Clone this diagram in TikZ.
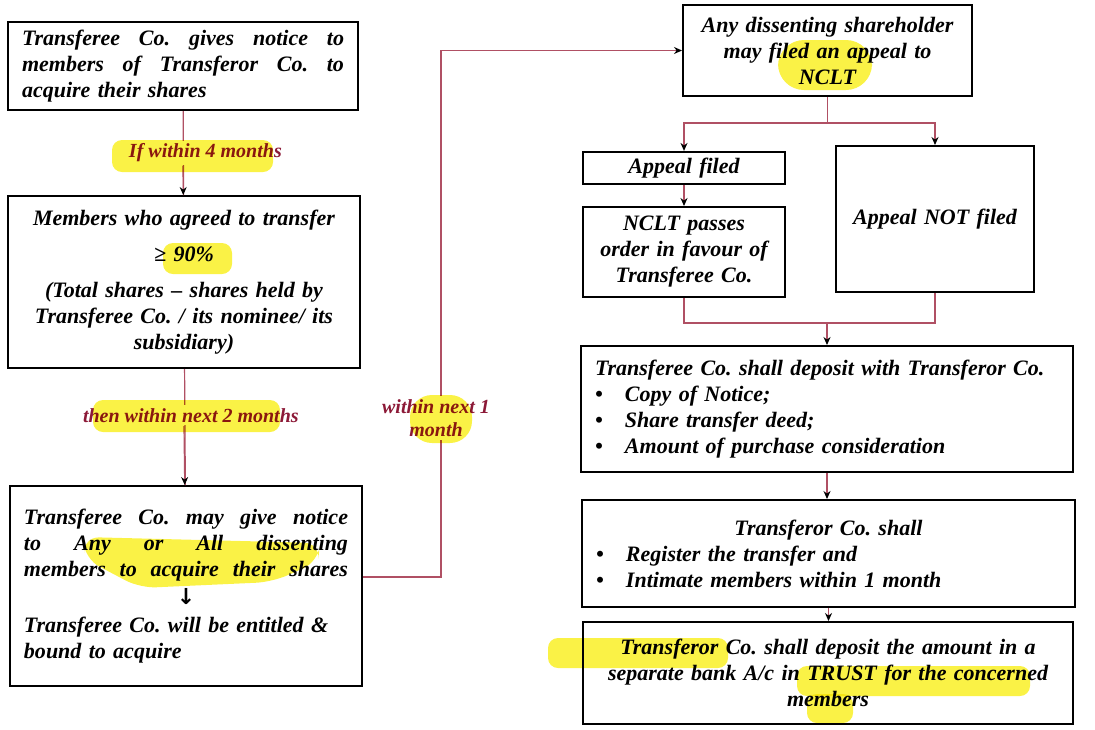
\documentclass[tikz,border=0pt]{standalone}
\usepackage{fontspec}
\setmainfont{Liberation Serif}
\newfontfamily\symfont{DejaVu Sans}
\usetikzlibrary{arrows.meta,positioning,calc,backgrounds}
\frenchspacing
\newcommand{\jline}[1]{\makebox[\linewidth][s]{\spaceskip=.3em plus 10em\relax #1}}
\newcommand{\bitem}[1]{\makebox[15pt][l]{\textbullet}#1}
\definecolor{linkred}{RGB}{176,80,100}
\definecolor{lblred}{RGB}{140,25,55}
\definecolor{marker}{RGB}{250,242,70}

\begin{document}
\begin{tikzpicture}[
    x=0.5pt, y=-0.5pt,
    box/.style={draw, line width=1pt, inner xsep=7pt, inner ysep=3pt,
                font=\bfseries\itshape\fontsize{11}{13}\selectfont},
    conn/.style={linkred, line width=0.6pt,
                 arrows={-Stealth[color=black, length=4pt, width=3.5pt]}},
    link/.style={linkred, line width=0.6pt},
    lbl/.style={lblred, fill=white, inner sep=1.5pt, align=center,
                font=\bfseries\itshape\fontsize{10}{11.5}\selectfont},
    hl/.style={fill=marker, blend mode=multiply, rounded corners=5pt}
  ]
    \useasboundingbox (0,0) rectangle (1095,729);

    %--- Left column ---
    \node[box, minimum width=175pt, minimum height=44pt, text width=161pt, align=left]
      (notice) at (183,66)
      {\jline{Transferee Co. gives notice to}\\
       \jline{members of Transferor Co. to}\\
       acquire their shares};
    \node[box, minimum width=176pt, minimum height=86pt, text width=162pt, align=center]
      (agree) at (184,282)
      {Members who agreed to transfer\\[5pt]
       ≥ 90\%\\[5pt]
       (Total shares – shares held by\\
       Transferee Co. / its nominee/ its\\
       subsidiary)};
    \node[box, minimum width=176pt, minimum height=100pt, text width=162pt, align=left]
      (excl) at (186,586)
      {\jline{Transferee Co. may give notice}\\
       \jline{to Any or All dissenting}\\
       \jline{members to acquire their shares}\\[1pt]
       \makebox[\linewidth]{{\symfont\bfseries\upshape ↓}}\\[1pt]
       Transferee Co. will be entitled \&\\
       bound to acquire};

    \draw[link] (notice) -- node[lbl, xshift=11pt] (four) {If within 4 months} (agree);
    \draw[conn] (four.south -| notice.south) -- (agree);
    \draw[link] (agree) -- node[lbl, pos=0.4, xshift=3pt] (two) {then within next 2 months} (excl);
    \draw[conn] (two.south -| agree.south) -- (excl);

    %--- Right column ---
    \node[box, minimum width=144.5pt, minimum height=45.5pt, text width=130pt, align=center]
      (appeal) at (827.5,50.5)
      {Any dissenting shareholder\\
       may filed an appeal to\\
       NCLT};
    \node[box, minimum width=101pt, minimum height=16pt, text width=87pt, align=center]
      (filed) at (684,168) {Appeal filed};
    \node[box, minimum width=101pt, minimum height=45pt, text width=87pt, align=center]
      (order) at (684,252)
      {NCLT passes\\
       order in favour of\\
       Transferee Co.};
    \node[box, minimum width=99pt, minimum height=73pt, text width=85pt, align=center]
      (notfiled) at (935,219) {Appeal NOT filed};
    \node[box, minimum width=246pt, minimum height=63pt, text width=232pt, align=left]
      (deposit) at (827,409)
      {Transferee Co. shall deposit with Transferor Co.\\
       \bitem{Copy of Notice;}\\
       \bitem{Share transfer deed;}\\
       \bitem{Amount of purchase consideration}};
    \node[box, minimum width=246.5pt, minimum height=53.5pt, text width=232.5pt, align=left]
      (register) at (828.5,553.5)
      {\makebox[\linewidth]{Transferor Co. shall}\\
       \bitem{Register the transfer and}\\
       \bitem{Intimate members within 1 month}};
    \node[box, minimum width=245pt, minimum height=51pt, text width=231pt, align=center]
      (trust) at (828,673)
      {Transferor Co. shall deposit the amount in a\\
       separate bank A/c in TRUST for the concerned\\
       members};

    %--- Link between the columns ---
    \draw[conn] ([yshift=4.5pt]excl.east) -- ++(39pt,0) |- (appeal.west);
    \node[lbl] (one) at (436,418) {within next 1\\month};

    %--- Right column connectors ---
    \draw[link] (appeal.south) -- ++(0,-13pt) coordinate (split);
    \draw[conn] (split) -| (filed.north);
    \draw[conn] (split) -| (notfiled.north);
    \draw[conn] (filed) -- (order);
    \coordinate (merge) at (827,323);
    \draw[link] (order.south) |- (merge) -| (notfiled.south);
    \draw[conn] (merge) -- (deposit.north);
    \draw[conn] (deposit.south) -- (deposit.south |- register.north);
    \draw[conn] (register.south) -- (register.south |- trust.north);

    %--- Marker highlights ---
    \fill[hl] (112,140) rectangle (273,172);
    \fill[hl] (163,243) rectangle (232,274);
    \fill[hl] (93,400) rectangle (280,432);
    \fill[hl, rounded corners=11pt] (410,395) rectangle (472,443);
    \fill[hl, rounded corners=8pt] (83,537) -- (320,543) -- (318,562) -- (272,582)
      -- (140,588) -- (85,559) -- cycle;
    \fill[hl, rounded corners=13pt] (778,40) rectangle (872,90);
    \fill[hl] (548,638) rectangle (728,668);
    \fill[hl] (797,666) rectangle (1030,696);
    \fill[hl] (807,694) rectangle (853,723);
  \end{tikzpicture}
\end{document}
